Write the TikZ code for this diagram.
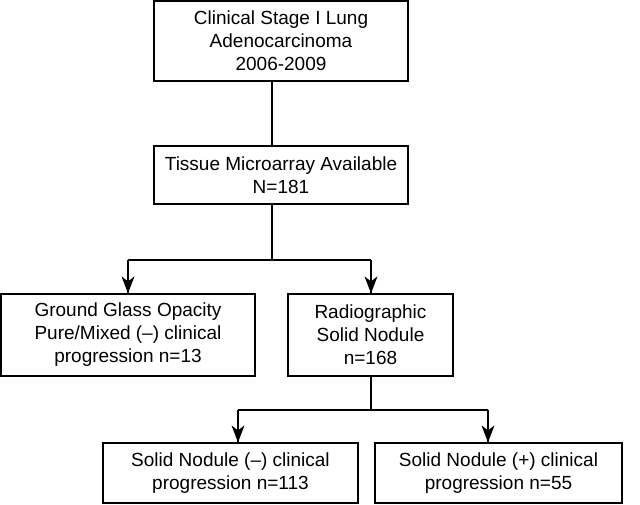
\documentclass[tikz,border=0pt]{standalone}
\usepackage{fontspec}
\setmainfont{Liberation Sans}
\tikzset{
  box/.style={draw, line width=1.2pt, align=center, inner sep=0pt,
    font=\fontsize{19}{23}\selectfont},
  conn/.style={line width=1.2pt},
  tipdown/.pic={\fill (0,0) -- (-6.5,17) -- (0,12) -- (6.5,17) -- cycle;}
}
\begin{document}
\begin{tikzpicture}[x=1pt,y=1pt]
\useasboundingbox (0,0) rectangle (640,504);
\node[box, minimum width=254pt, minimum height=80pt] (b1) at (281,463)
  {Clinical Stage I Lung\\Adenocarcinoma\\2006-2009};
\node[box, minimum width=254pt, minimum height=58pt] (b2) at (281,329)
  {Tissue Microarray Available\\N=181};
\node[box, minimum width=254pt, minimum height=82pt] (b3) at (128,169)
  {Ground Glass Opacity\\Pure/Mixed (–) clinical\\progression n=13};
\node[box, minimum width=165pt, minimum height=82pt] (b4) at (370.5,169)
  {Radiographic\\Solid Nodule\\n=168};
\node[box, minimum width=255pt, minimum height=60pt] (b5) at (230.5,31)
  {Solid Nodule (–) clinical\\progression n=113};
\node[box, minimum width=247pt, minimum height=60pt] (b6) at (498.5,31)
  {Solid Nodule (+) clinical\\progression n=55};
\coordinate (j1) at (272,244);
\coordinate (j2) at (371,94);
\coordinate (a3) at (128,244);
\coordinate (a4) at (371,244);
\coordinate (a5) at (238,94);
\coordinate (a6) at (488,94);
\draw[conn] (b1.south -| j1) -- (b2.north -| j1);
\draw[conn] (b2.south -| j1) -- (j1);
\draw[conn] (a3) -- (a4);
\draw[conn] (a3) -- (b3.north -| a3) pic {tipdown};
\draw[conn] (a4) -- (b4.north -| a4) pic {tipdown};
\draw[conn] (b4.south -| j2) -- (j2);
\draw[conn] (a5) -- (a6);
\draw[conn] (a5) -- (b5.north -| a5) pic {tipdown};
\draw[conn] (a6) -- (b6.north -| a6) pic {tipdown};
\end{tikzpicture}
\end{document}
